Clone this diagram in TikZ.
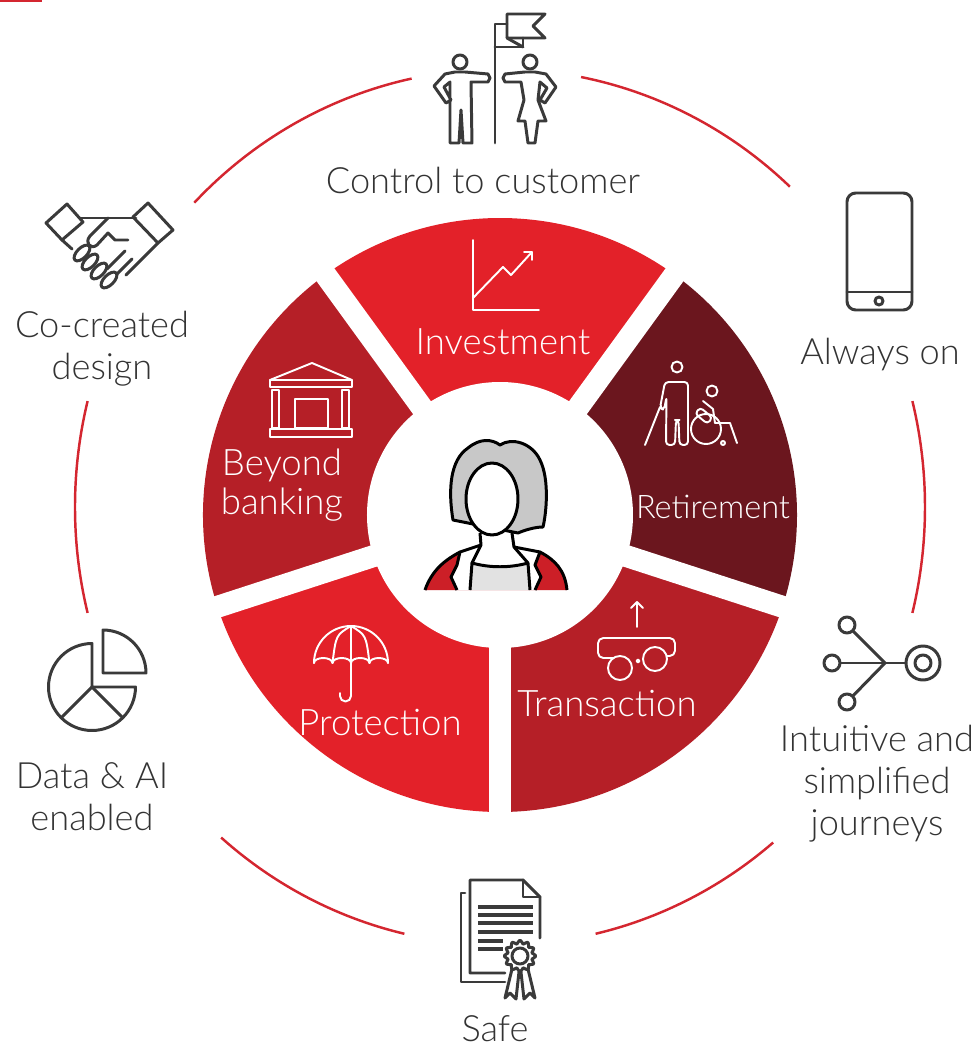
\documentclass[tikz,border=0pt]{standalone}
\usepackage{fontspec}
\setmainfont{Lato Light}
\usepackage{xcolor}

\definecolor{segred}{HTML}{E32129}
\definecolor{segdark}{HTML}{B51F27}
\definecolor{segmaroon}{HTML}{6B161E}
\definecolor{ringred}{HTML}{D42630}
\definecolor{icongrey}{HTML}{3A3A3A}
\definecolor{txtgrey}{HTML}{333333}
\definecolor{hairgrey}{HTML}{C8C8C8}
\definecolor{jacket}{HTML}{CC1F27}
\definecolor{shirtgrey}{HTML}{E2E2E2}

\begin{document}
\begin{tikzpicture}[x=0.02cm,y=0.02cm,
  ring/.style={draw=ringred,line width=1.4pt},
  icon/.style={draw=icongrey,line width=1.7pt,line join=round,line cap=round},
  wicon/.style={draw=white,line width=1.1pt,line join=round,line cap=round},
  label/.style={text=txtgrey,align=center,font=\fontsize{20.6}{23.9}\selectfont},
  seglabel/.style={text=white,align=center,font=\fontsize{20.8}{22.5}\selectfont}
]
  \useasboundingbox (-500,-534) rectangle (478,515);
  \fill[ringred] (-500,515) rectangle (-458,513);

  % donut segments
  \foreach \a/\c in {54/segred,126/segdark,198/segred,270/segdark,342/segmaroon}
    \fill[\c] (0,0) -- (\a:297) arc[start angle=\a,end angle=\a+72,radius=297] -- cycle;
  \foreach \a in {54,126,198,270,342}
    \draw[white,line width=12.5pt] (0,0) -- (\a:310);
  \fill[white] (0,0) circle[radius=133];

  % outer ring
  \foreach \s/\e in {-14/14,47/79,102/136,166/194,229/257,283/310}
    \draw[ring,shift={(0,8)}] (\s:425 and 438) arc[start angle=\s,end angle=\e,x radius=425,y radius=438];

  \node[label] (ctrl) at (-17,335) {Control to customer};
  \node[label] (always) at (380,160) {Always on};
  \node[label] (cocreate) at (-398,166) {Co-created\\design};
  \node[label] (dataai) at (-408,-282) {Data \& AI\\enabled};
  \node[label] (journey) at (377,-269) {Intuitive and\\simplified\\journeys};
  \node[label,inner sep=0pt] (safe) at (-5,-514) {Safe};

  \node[seglabel] (invest) at (3,173) {Investment};
  \node[seglabel] (beyond) at (-218,30) {Beyond\\banking};
  \node[seglabel,font=\fontsize{18.5}{20}\selectfont] (retire) at (213,8) {Retirement};
  \node[seglabel] (trans) at (107,-188) {Transaction};
  \node[seglabel] (protect) at (-120,-207) {Protection};

  % control to customer
  \draw[icon] (-5,372) -- (-5,491) -- (7,491);
  \draw[icon] (-5,468) -- (23,468) -- (23,477);
  \draw[icon] (7,477) -- (23,468);
  \draw[icon] (7,501) -- (45,501) -- (33,489) -- (45,477) -- (7,477) -- cycle;
  \draw[icon] (-40,453) circle[radius=7];
  \draw[icon] (-45,443) -- (-55,441) -- (-66,429) -- (-54,412) -- (-49,415) -- (-56,428) -- (-50,433)
    -- (-50,372) -- (-41,372) -- (-39,405) -- (-37,372) -- (-28,372) -- (-29,433) -- (-12,433)
    -- (-10,437) -- (-12,441) -- (-35,443) -- cycle;
  \draw[icon] (30,453) circle[radius=7];
  \draw[icon] (35,443) -- (46,441) -- (56,428) -- (45,412) -- (40,415) -- (47,427) -- (40,433)
    -- (38,415) -- (46,394) -- (38,394) -- (35,372) -- (28,372) -- (25,394) -- (18,394)
    -- (24,415) -- (21,433) -- (5,433) -- (3,437) -- (5,441) -- (25,443) -- cycle;

  % always on
  \draw[icon,rounded corners=5] (347,205) rectangle (412,322);
  \draw[icon] (347,223) -- (412,223);
  \draw[icon] (379,214) circle[radius=4];

  % co-created design
  \draw[icon] (-454,292) -- (-433,311) -- (-417,293) -- (-438,275) -- cycle;
  \draw[icon] (-367,298) -- (-352,312) -- (-327,285) -- (-342,272) -- cycle;
  \draw[icon] (-420,297) -- (-364,297);
  \draw[icon] (-438,275) -- (-428,266);
  \draw[icon] (-342,272) -- (-374,240);
  \draw[icon] (-368,256) -- (-384,240);
  \draw[icon] (-375,264) -- (-393,246);
  \foreach \x/\y in {-418/262,-410/253,-401/244,-391/235}
    \filldraw[icon,fill=white,rotate around={45:(\x,\y)}] (\x,\y) ellipse[x radius=10,y radius=5];
  \draw[icon,fill=white] (-392,297) -- (-410,279) .. controls (-416,272) and (-409,265) .. (-403,270)
    -- (-392,282) -- (-385,275) -- (-372,275);

  % data & ai
  \draw[icon] (-408,-172) -- (-408,-128.5) arc[start angle=90,end angle=360,radius=43.5] -- cycle;
  \draw[icon] (-408,-172) -- +(225:43.5);
  \draw[icon] (-408,-172) -- +(315:43.5);
  \draw[icon] (-397,-158) -- (-397,-115) arc[start angle=90,end angle=0,radius=43] -- cycle;

  % journeys
  \draw[icon] (332,-148) -- (406,-148);
  \draw[icon] (347,-110) -- (385,-148) -- (347,-187);
  \foreach \x/\y in {332/-148,347/-110,347/-187}
    \filldraw[icon,fill=white] (\x,\y) circle[radius=8];
  \filldraw[icon,fill=white] (423,-148) circle[radius=17];
  \draw[icon] (423,-148) circle[radius=8];

  % safe
  \draw[icon] (-35,-378) -- (-39,-378) -- (-39,-467) -- (5,-467);
  \draw[icon] (5,-458) -- (-30,-458) -- (-30,-365) -- (23,-365) -- (40,-382) -- (40,-423);
  \draw[icon] (23,-365) -- (23,-382) -- (40,-382);
  \foreach \y in {-392,-400,-408,-417}
    \draw[icon,line width=2.2pt,line cap=butt] (-22,\y) -- (33,\y);
  \foreach \y in {-426,-434}
    \draw[icon,line width=2.2pt,line cap=butt] (-22,\y) -- (3,\y);
  \draw[icon] plot[domain=0:352.5,samples=48,smooth cycle,variable=\t]
    ({20+(14+1.8*cos(12*\t))*cos(\t)},{-441+(14+1.8*cos(12*\t))*sin(\t)});
  \draw[icon] (20,-441) circle[radius=8];
  \draw[icon] (12,-454) -- (5,-483) -- (10,-478) -- (16,-484) -- (19,-457);
  \draw[icon] (28,-454) -- (35,-483) -- (30,-478) -- (24,-484) -- (21,-457);

  % investment
  \draw[wicon] (-27,275) -- (-27,205) -- (39,205);
  \draw[wicon] (-27,217) -- (3,248) -- (11,240) -- (32,263);
  \draw[wicon] (24,263) -- (32,263) -- (32,255);

  % beyond banking
  \draw[wicon] (-230,135) -- (-188,152) -- (-148,135);
  \draw[wicon] (-230,128) rectangle (-148,135);
  \draw[wicon] (-228,87) rectangle (-221,125);
  \draw[wicon] (-158,87) rectangle (-151,125);
  \draw[wicon] (-205,87) rectangle (-172,116);
  \draw[wicon] (-230,78) rectangle (-148,86);

  % retirement
  \draw[wicon] (177,148) circle[radius=5.5];
  \draw[wicon,rounded corners=2] (165,133) -- (188,133) -- (188,70) -- (179.5,70) -- (178.5,95)
    -- (176,95) -- (175,70) -- (166,70) -- (166.5,118) -- (164,105) -- (160,107) -- cycle;
  \draw[wicon] (160,108) -- (145,70);
  \draw[wicon] (212,124) circle[radius=5.5];
  \draw[wicon] (206,86) circle[radius=15];
  \draw[wicon] (203,114) -- (213,106) -- (215,92) -- (230,92) -- (237,72);
  \draw[wicon,rotate around={-40:(203,100)},rounded corners=2] (196,96) rectangle (212,104);
  \draw[wicon] (223,72) circle[radius=2];

  % transaction
  \draw[wicon] (137,-112) -- (137,-87);
  \draw[wicon] (131,-93) -- (137,-87) -- (143,-93);
  \draw[wicon,rounded corners=3] (113,-143) -- (98,-143) -- (98,-123) -- (175,-123) -- (175,-141) -- (167,-141);
  \draw[wicon] (120,-153) circle[radius=12];
  \draw[wicon] (155,-144) circle[radius=12];
  \draw[wicon] (138,-146) circle[radius=1.5];

  % protection
  \draw[wicon] (-186,-148) arc[start angle=180,end angle=0,radius=37];
  \foreach \i in {0,...,3}
    \draw[wicon] (-186+18.5*\i,-148) arc[start angle=180,end angle=0,x radius=9.25,y radius=5];
  \draw[wicon] (-149,-111) .. controls (-164,-120) .. (-167.5,-148);
  \draw[wicon] (-149,-111) -- (-149,-148);
  \draw[wicon] (-149,-111) .. controls (-134,-120) .. (-130.5,-148);
  \draw[wicon] (-149,-145) -- (-149,-181) arc[start angle=0,end angle=-180,radius=5.5] -- (-160,-178);

  % customer
  \begin{scope}[line width=1.7pt,line join=round]
    \filldraw[fill=hairgrey,draw=black] (-47,-5) .. controls (-52,25) and (-50,55) .. (-32,67)
      .. controls (-20,77) and (-8,76) .. (0,70) .. controls (12,78) and (32,72) .. (40,55)
      .. controls (50,35) and (46,0) .. (43,-12) .. controls (35,-12) and (25,-15) .. (18,-18) -- cycle;
    \filldraw[fill=white,draw=black] (-8,16) ellipse[x radius=26,y radius=36];
    \fill[jacket] (-75,-75) .. controls (-68,-55) and (-55,-45) .. (-40,-37) -- (40,-37)
      .. controls (55,-45) and (65,-55) .. (67,-75) -- cycle;
    \draw (-75,-75) .. controls (-68,-55) and (-55,-45) .. (-40,-37);
    \draw (67,-75) .. controls (65,-55) and (55,-45) .. (40,-37);
    \fill[white] (-40,-37) -- (-19,-30) -- (14,-32) -- (40,-37) -- (35,-50) -- (41,-62) -- (35,-75)
      -- (-43,-75) -- (-49,-62) -- (-43,-50) -- cycle;
    \draw (-43,-75) -- (-49,-62) -- (-43,-50) -- (-40,-37) -- (-19,-30);
    \draw (35,-75) -- (41,-62) -- (35,-50) -- (40,-37) -- (14,-32);
    \fill[shirtgrey] (-28,-48) .. controls (-10,-53) and (10,-53) .. (28,-48) -- (30,-75) -- (-30,-75) -- cycle;
    \draw (-30,-75) -- (-28,-48) .. controls (-10,-53) and (10,-53) .. (28,-48) -- (30,-75);
    \draw (-20,-18) -- (-19,-30) -- (-28,-48);
    \draw (12,-18) -- (14,-32) -- (28,-48);
  \end{scope}
\end{tikzpicture}
\end{document}
